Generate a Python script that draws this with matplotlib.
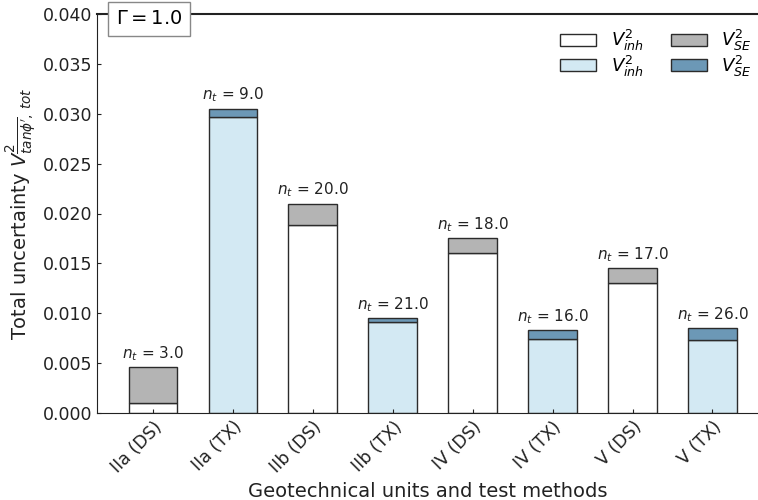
import numpy as np
import matplotlib.pyplot as plt
from matplotlib.patches import Patch

units = ['IIa (DS)', 'IIa (TX)', 'IIb (DS)', 'IIb (TX)',
         'IV (DS)', 'IV (TX)', 'V (DS)', 'V (TX)']
v_inh = [0.0010, 0.0297, 0.01885, 0.0091, 0.0160, 0.0074, 0.0130, 0.0073]
v_se = [0.0036, 0.0008, 0.00215, 0.0004, 0.0015, 0.0009, 0.0015, 0.0012]
n_t = [3.0, 9.0, 20.0, 21.0, 18.0, 16.0, 17.0, 26.0]
is_tx = [False, True, False, True, False, True, False, True]

c_inh_ds, c_inh_tx = 'white', '#d3e9f3'
c_se_ds, c_se_tx = '#b4b4b4', '#6c98b6'
ec = '#2b2b2b'

fig = plt.figure(figsize=(7.58, 5.0), dpi=100)
ax = fig.add_axes([0.128, 0.174, 0.872, 0.798])

x = np.arange(len(units))
inh_col = [c_inh_tx if t else c_inh_ds for t in is_tx]
se_col = [c_se_tx if t else c_se_ds for t in is_tx]
ax.bar(x, v_inh, 0.61, color=inh_col, edgecolor=ec, linewidth=1.0)
ax.bar(x, v_se, 0.61, bottom=v_inh, color=se_col, edgecolor=ec, linewidth=1.0)

for xi, a, b, n in zip(x, v_inh, v_se, n_t):
    ax.text(xi, a + b + 0.00045, r'$n_t$ = %.1f' % n, ha='center', va='bottom',
            fontsize=11, color='#222222')

ax.set_xlim(-0.7, 7.57)
ax.set_ylim(0, 0.040)
ax.set_yticks(np.arange(0, 0.0401, 0.005))
ax.set_yticklabels(['%.3f' % v for v in np.arange(0, 0.0401, 0.005)])
ax.set_xticks(x)
ax.set_xticklabels(units, rotation=45, ha='right', rotation_mode='anchor')
ax.tick_params(axis='both', direction='in', length=3, labelsize=12.5,
               colors='#222222')
ax.spines['right'].set_visible(False)
for s in ['top', 'left', 'bottom']:
    ax.spines[s].set_color('#222222')
ax.spines['top'].set_linewidth(1.5)

ax.set_xlabel('Geotechnical units and test methods', fontsize=14, color='#222222')
ax.set_ylabel(r"Total uncertainty $V^2_{\overline{tan\phi^{\prime}},\,tot}$",
              fontsize=14, color='#222222', labelpad=3)

ax.text(0.028, 0.988, r'$\Gamma = 1.0$', transform=ax.transAxes, fontsize=14,
        ha='left', va='center',
        bbox=dict(boxstyle='square,pad=0.4', fc='white', ec='#888888'))

handles = [Patch(fc=c_inh_ds, ec=ec), Patch(fc=c_inh_tx, ec=ec),
           Patch(fc=c_se_ds, ec=ec), Patch(fc=c_se_tx, ec=ec)]
labels = [r'$V^2_{inh}$', r'$V^2_{inh}$', r'$V^2_{SE}$', r'$V^2_{SE}$']
ax.legend(handles, labels, ncol=2, frameon=False, fontsize=13,
          loc='upper right', bbox_to_anchor=(1.015, 1.005),
          handlelength=2.0, handleheight=0.6, columnspacing=1.5,
          labelspacing=0.0, handletextpad=0.8)

fig.savefig('out.png', dpi=100)
